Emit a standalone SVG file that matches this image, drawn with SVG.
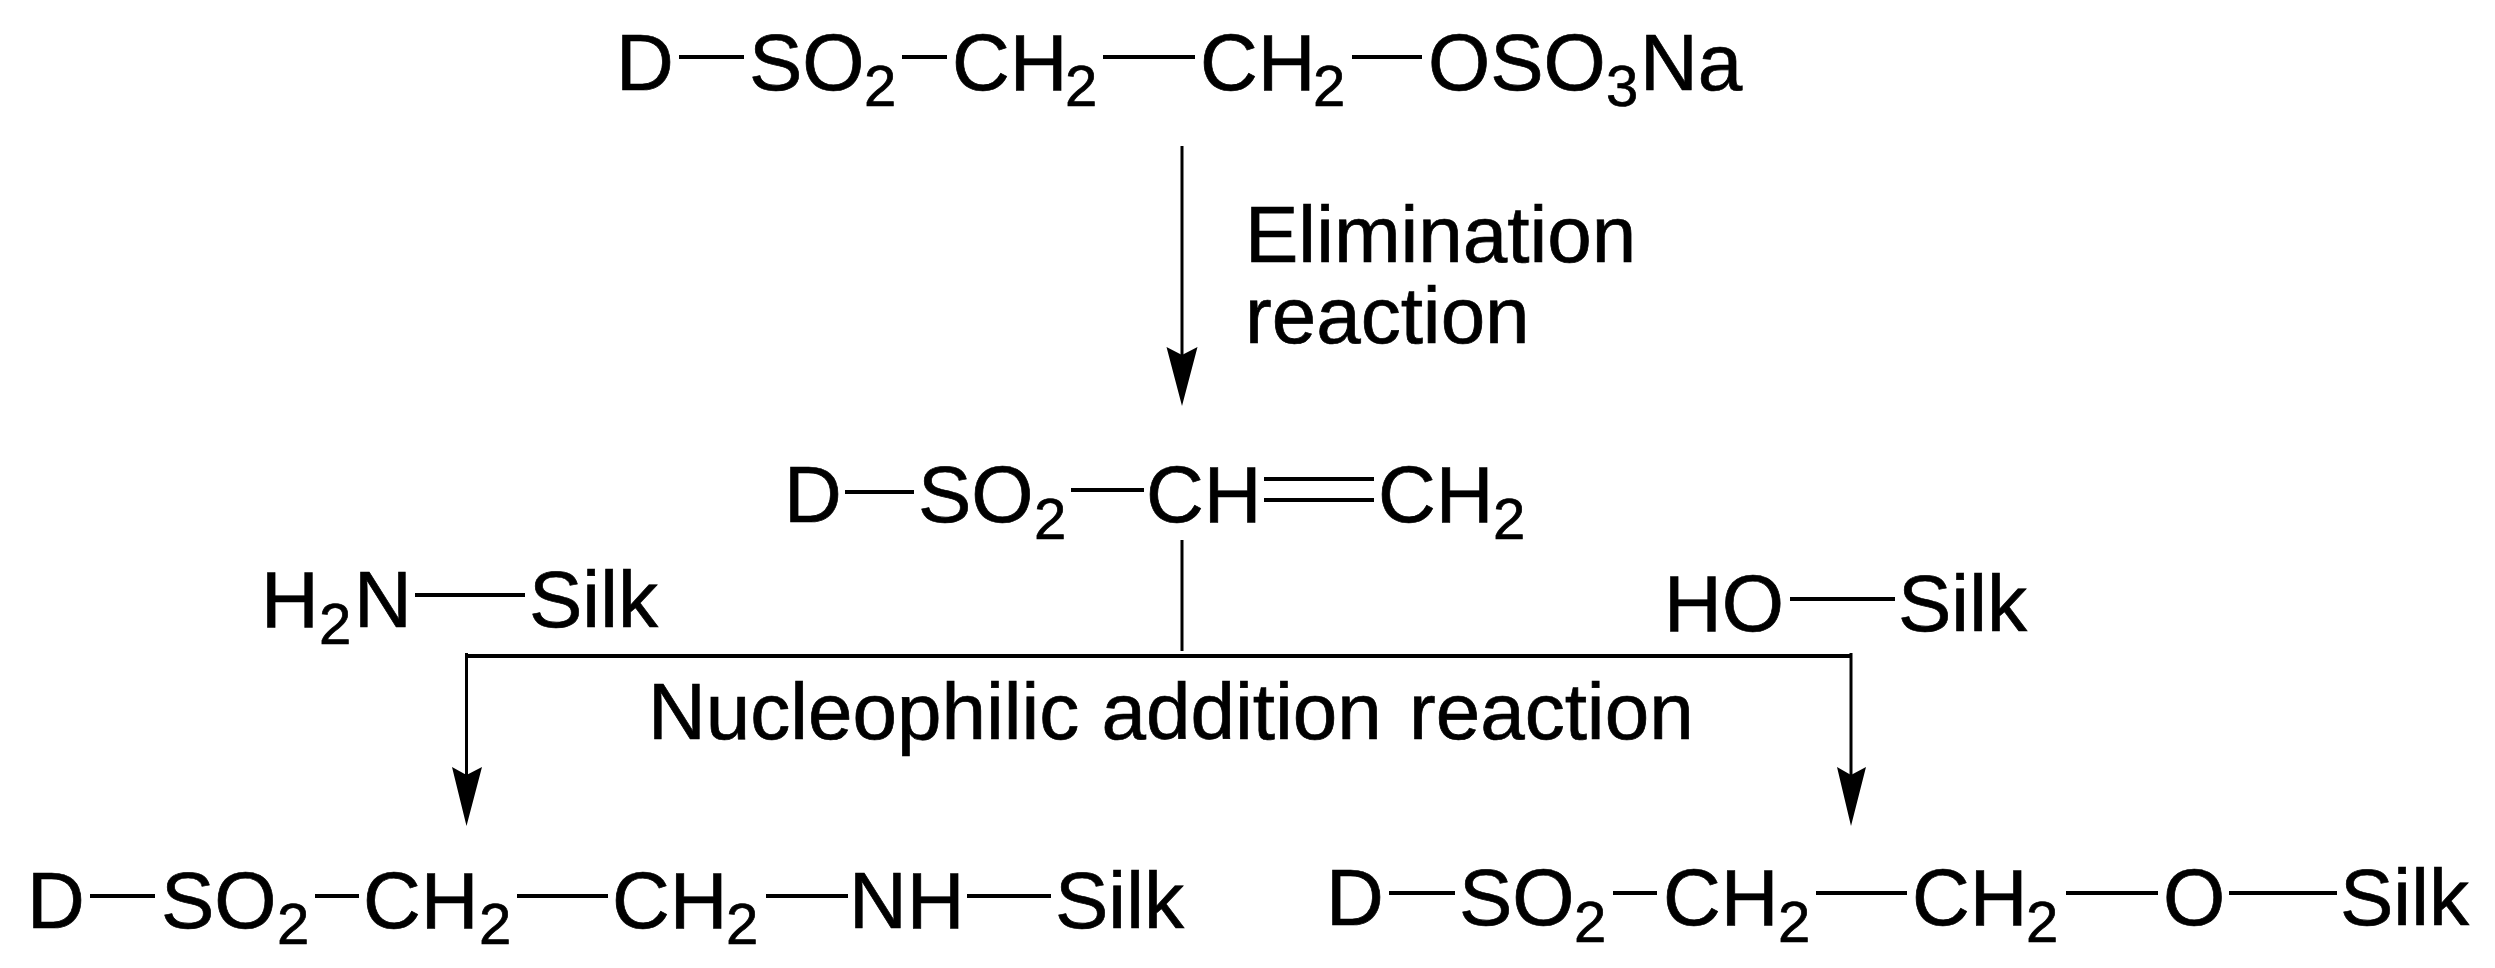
<svg xmlns="http://www.w3.org/2000/svg" width="2495" height="968" viewBox="0 0 2495 968">
<style>
text{font-family:"Liberation Sans",Arial,sans-serif;fill:#000;stroke:#000;stroke-width:.7;font-size:80px}
.s{font-size:58px}
.b{stroke:#000;stroke-width:4;fill:none}
.c{stroke:#000;stroke-width:3;fill:none}
.h{fill:#000}
</style>
<rect width="2495" height="968" fill="#fff"/>
<g id="connectors">
<line class="c" x1="1182" y1="146" x2="1182" y2="355"/>
<path class="h" d="M1182 406 L1166.500 347 L1182 355 L1197.500 347 Z"/>
<line class="c" x1="1182" y1="540" x2="1182" y2="651"/>
<line class="b" x1="465" y1="656" x2="1851" y2="656"/>
<line class="c" x1="466.500" y1="653" x2="466.500" y2="775"/>
<path class="h" d="M466.500 826 L452 767 L466.500 775 L482 767 Z"/>
<line class="c" x1="1851" y1="653" x2="1851" y2="775"/>
<path class="h" d="M1851 826 L1837 767 L1851 775 L1866 767 Z"/>
</g>
<g id="n1">
<text y="90">
<tspan x="616">D</tspan><tspan x="749">SO</tspan><tspan class="s" x="864" y="106">2</tspan><tspan x="952" y="90">CH</tspan><tspan class="s" x="1065" y="106">2</tspan><tspan x="1200" y="90">CH</tspan><tspan class="s" x="1313" y="106">2</tspan><tspan x="1428" y="90">OSO</tspan><tspan class="s" x="1606" y="106">3</tspan><tspan x="1640" y="90">Na</tspan>
</text>
<path class="b" d="M679 57H744M902 57H947M1103 57H1195M1352 57H1422"/>
</g>
<g id="label-elimination">
<text x="1245" y="262">Elimination</text>
<text x="1245" y="343">reaction</text>
</g>
<g id="n2">
<text y="522">
<tspan x="784">D</tspan><tspan x="918">SO</tspan><tspan class="s" x="1034" y="539">2</tspan><tspan x="1146" y="522">CH</tspan><tspan x="1378" y="522">CH</tspan><tspan class="s" x="1493" y="539">2</tspan>
</text>
<path class="b" d="M845 492H914M1071 490H1144M1264 479H1374M1264 500H1374"/>
</g>
<g id="n3">
<text y="627">
<tspan x="261">H</tspan><tspan class="s" x="319" y="644">2</tspan><tspan x="354" y="627">N</tspan><tspan x="529" y="627">Silk</tspan>
</text>
<path class="b" d="M415 595H525"/>
</g>
<g id="n4">
<text y="631">
<tspan x="1664">HO</tspan><tspan x="1898" y="631">Silk</tspan>
</text>
<path class="b" d="M1790 599H1895"/>
</g>
<g id="label-nucleophilic">
<text x="648" y="739">Nucleophilic addition <tspan dx="5">reaction</tspan></text>
</g>
<g id="n5">
<text y="928">
<tspan x="27">D</tspan><tspan x="161">SO</tspan><tspan class="s" x="277" y="944">2</tspan><tspan x="363" y="928">CH</tspan><tspan class="s" x="479" y="944">2</tspan><tspan x="612" y="928">CH</tspan><tspan class="s" x="726" y="944">2</tspan><tspan x="849" y="928">NH</tspan><tspan x="1055" y="928">Silk</tspan>
</text>
<path class="b" d="M90 896H155M315 896H359M517 896H608M766 896H848M967 896H1051"/>
</g>
<g id="n6">
<text y="925">
<tspan x="1326">D</tspan><tspan x="1459">SO</tspan><tspan class="s" x="1574" y="942">2</tspan><tspan x="1663" y="925">CH</tspan><tspan class="s" x="1778" y="942">2</tspan><tspan x="1912" y="925">CH</tspan><tspan class="s" x="2026" y="942">2</tspan><tspan x="2163" y="925">O</tspan><tspan x="2340" y="925">Silk</tspan>
</text>
<path class="b" d="M1389 893H1455M1613 893H1657M1816 893H1907M2066 893H2158M2229 893H2337"/>
</g>
</svg>
